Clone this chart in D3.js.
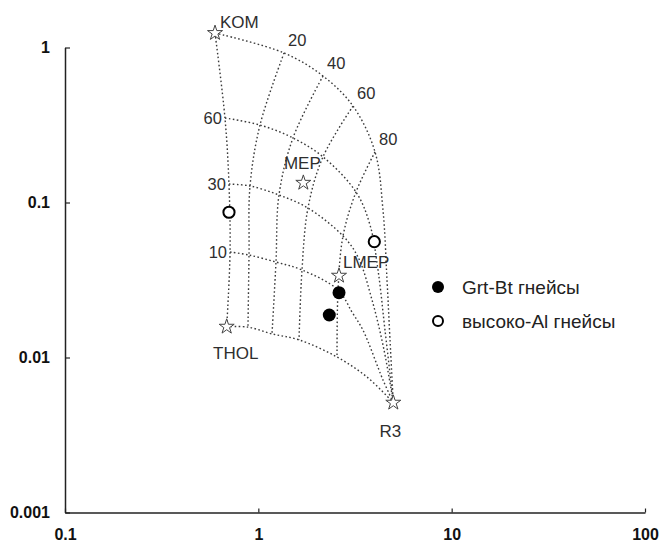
<!DOCTYPE html>
<html><head><meta charset="utf-8">
<script src="https://cdn.jsdelivr.net/npm/d3@7"></script>
<style>
html,body{margin:0;padding:0;background:#fff;}
svg{display:block;font-family:"Liberation Sans",Arial,sans-serif;}
</style></head>
<body>
<svg id="chart" width="662" height="542"></svg>
<script>
// ---- axis ticks ----
const xTicks = [0.1, 1, 10, 100];
const xTickLabels = ["0.1", "1", "10", "100"];
const yTicks = [0.001, 0.01, 0.1, 1];
const yTickLabels = ["0.001", "0.01", "0.1", "1"];

// ---- end-members (stars) ----
const endNames = ["KOM", "THOL", "R3", "MEP", "LMEP"];
const endX = [0.597, 0.686, 4.99, 1.709, 2.614];
const endY = [1.24, 0.0158, 0.00511, 0.134, 0.0337];

// ---- samples ----
const grtBtX = [2.614, 2.328];
const grtBtY = [0.0262, 0.0188];
const highAlX = [0.705, 3.98];
const highAlY = [0.0865, 0.0559];

// ---- mixing grid nodes (rows: KOM edge, 60, 30, 10, THOL edge; cols: 0,20,40,60,80) ----
const gridRowLabels = ["", "60", "30", "10", ""];
const gridColLabels = ["", "20", "40", "60", "80"];
const gridX = [
  [0.597, 1.358, 2.160, 3.088, 4.013],
  [0.672, 1.020, 1.511, 2.160, 3.200],
  [0.705, 0.906, 1.279, 1.806, 2.742],
  [0.714, 0.895, 1.234, 1.682, 2.584],
  [0.686, 0.884, 1.177, 1.623, 2.553]
];
const gridY = [
  [1.24, 0.922, 0.655, 0.419, 0.212],
  [0.351, 0.316, 0.261, 0.197, 0.1169],
  [0.1316, 0.1278, 0.1118, 0.0921, 0.0608],
  [0.0479, 0.0458, 0.0413, 0.0367, 0.0273],
  [0.0158, 0.0157, 0.0142, 0.0130, 0.01007]
];
// points of each row between the 80 column and R3
const tailX = [
  [4.414, 4.630, 4.798],
  [3.781, 4.159, 4.521],
  [3.278, 3.873, 4.467],
  [3.051, 3.478, 4.414],
  [3.649]
];
const tailY = [
  [0.0894, 0.0316, 0.0130],
  [0.0716, 0.0367, 0.0150],
  [0.0445, 0.0235, 0.0112],
  [0.01965, 0.0150, 0.00716],
  [0.00748]
];

// ---- legend ----
const legendLabels = ["Grt-Bt гнейсы", "высоко-Al гнейсы"];

const svg = d3.select("#chart");
const x = d3.scaleLog().domain([0.1, 100]).range([65, 645]);
const y = d3.scaleLog().domain([0.001, 1]).range([512.5, 47.5]);

const axisColor = "#222";
const gridColor = "#3a3a3a";
const textColor = "#2e2e2e";

// axes
const xAxis = svg.append("g").attr("transform", `translate(0,${y(0.001)})`)
  .call(d3.axisBottom(x).tickValues(xTicks).tickSize(0).tickPadding(16)
    .tickFormat((d, i) => xTickLabels[i]));
xAxis.select(".domain").attr("stroke", axisColor).attr("stroke-width", 1.5);
xAxis.selectAll("text").attr("font-size", 16).attr("font-weight", "bold")
  .attr("fill", "#111").attr("font-family", '"Liberation Sans",Arial,sans-serif');
xAxis.selectAll(".tick").append("line").attr("y1", 0).attr("y2", -4)
  .attr("stroke", axisColor).attr("stroke-width", 1.2);

const yAxis = svg.append("g").attr("transform", `translate(${x(0.1)},0)`)
  .call(d3.axisLeft(y).tickValues(yTicks).tickSize(0).tickPadding(15)
    .tickFormat((d, i) => yTickLabels[i]));
yAxis.select(".domain").attr("stroke", axisColor).attr("stroke-width", 1.5);
yAxis.selectAll("text").attr("font-size", 16).attr("font-weight", "bold")
  .attr("fill", "#111").attr("font-family", '"Liberation Sans",Arial,sans-serif');
yAxis.selectAll(".tick").append("line").attr("x1", 0).attr("x2", 5)
  .attr("stroke", axisColor).attr("stroke-width", 1.2);

// grid lines
const line = d3.line().x(d => x(d[0])).y(d => y(d[1])).curve(d3.curveCatmullRom.alpha(0.5));
const gGrid = svg.append("g").attr("fill", "none").attr("stroke", gridColor)
  .attr("stroke-width", 1.4).attr("stroke-dasharray", "1.6,2.4");
const r3 = [endX[2], endY[2]];
gridX.forEach((row, r) => {
  const pts = row.map((v, c) => [v, gridY[r][c]]);
  tailX[r].forEach((v, k) => pts.push([v, tailY[r][k]]));
  pts.push(r3);
  gGrid.append("path").attr("d", line(pts));
});
for (let c = 0; c < gridX[0].length; c++) {
  const pts = gridX.map((row, r) => [row[c], gridY[r][c]]);
  gGrid.append("path").attr("d", line(pts));
}

// grid labels
const gLab = svg.append("g").attr("fill", textColor).attr("font-size", 16.5);
gridRowLabels.forEach((t, r) => {
  if (!t) return;
  gLab.append("text").attr("x", x(gridX[r][0]) - 3).attr("y", y(gridY[r][0]) + 6)
    .attr("text-anchor", "end").text(t);
});
gridColLabels.forEach((t, c) => {
  if (!t) return;
  gLab.append("text").attr("x", x(gridX[0][c]) + 4).attr("y", y(gridY[0][c]) - 7)
    .attr("text-anchor", "start").text(t);
});

// stars
const star = d3.symbol().type(d3.symbolStar).size(70);
const gStar = svg.append("g");
endNames.forEach((n, i) => {
  gStar.append("path").attr("d", star())
    .attr("transform", `translate(${x(endX[i])},${y(endY[i])})`)
    .attr("fill", "#fff").attr("stroke", "#444").attr("stroke-width", 1);
});
const labelOff = {KOM: [5, -5.5, "start"], THOL: [9, 32.5, "middle"], R3: [-3, 34.5, "middle"],
  MEP: [-1, -13.5, "middle"], LMEP: [4, -7.5, "start"]};
endNames.forEach((n, i) => {
  const o = labelOff[n];
  svg.append("text").attr("x", x(endX[i]) + o[0]).attr("y", y(endY[i]) + o[1])
    .attr("text-anchor", o[2]).attr("fill", textColor).attr("font-size", 17).text(n);
});

// samples
svg.append("g").selectAll("circle").data(grtBtX).join("circle")
  .attr("cx", d => x(d)).attr("cy", (d, i) => y(grtBtY[i])).attr("r", 6.5).attr("fill", "#000");
svg.append("g").selectAll("circle").data(highAlX).join("circle")
  .attr("cx", d => x(d)).attr("cy", (d, i) => y(highAlY[i])).attr("r", 5.6)
  .attr("fill", "#fff").attr("stroke", "#000").attr("stroke-width", 2);

// legend
const lg = svg.append("g").attr("transform", "translate(438,0)");
lg.append("circle").attr("cx", 0).attr("cy", 287).attr("r", 6).attr("fill", "#000");
lg.append("circle").attr("cx", 0).attr("cy", 321).attr("r", 5).attr("fill", "#fff")
  .attr("stroke", "#000").attr("stroke-width", 2);
lg.selectAll("text").data(legendLabels).join("text")
  .attr("x", 24).attr("y", (d, i) => 294 + i * 33.5)
  .attr("fill", "#222").attr("font-size", 19).text(d => d);
</script>
</body></html>
